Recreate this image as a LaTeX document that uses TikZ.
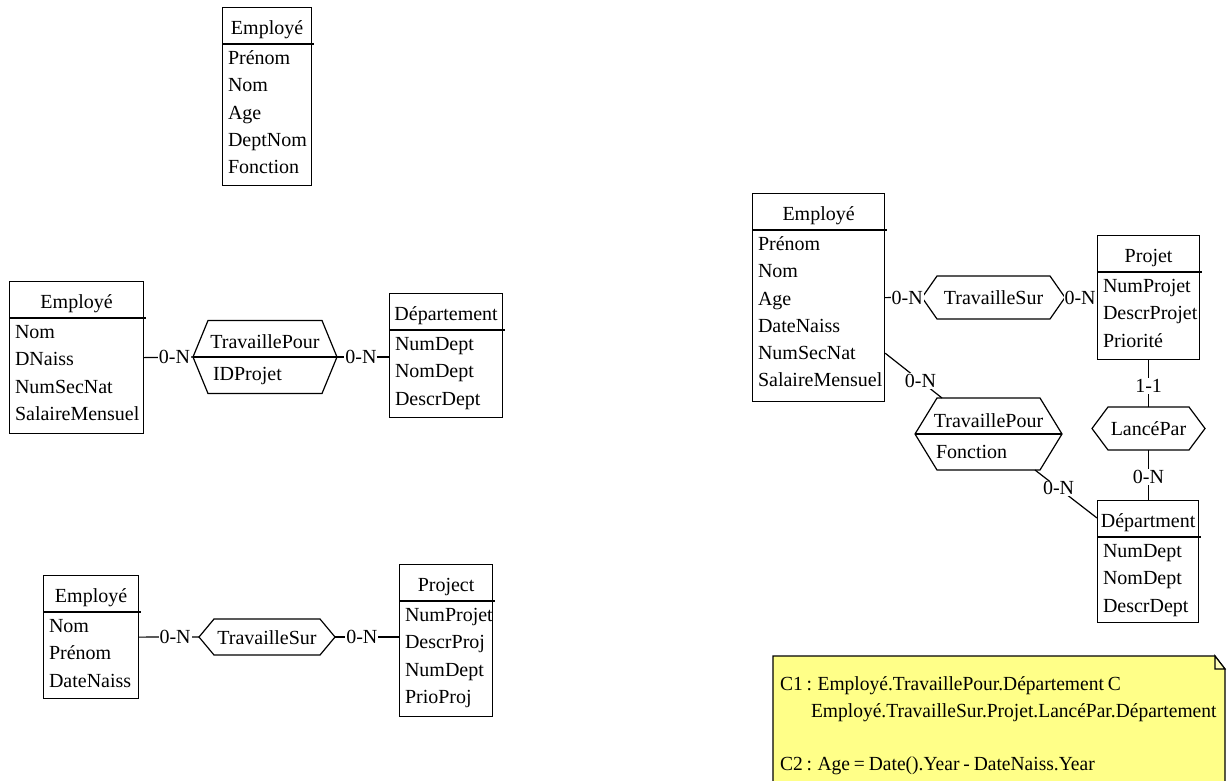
\documentclass[tikz,border=0pt]{standalone}
\usepackage{fontspec}
\setmainfont{Liberation Serif}
\usetikzlibrary{calc}

% Entity box: name, left, top, width, height, title, attribute list
\newcommand\erentity[7]{%
  \node[entbox, minimum width=#4pt, minimum height=#5pt, anchor=north west] (#1) at (#2,#3) {};
  \node[txt, anchor=base] (#1-title) at ($(#1.north)+(0,27)$) {#6};
  \draw[boxline] ($(#1.north west)+(0,37)$) -- ($(#1.north east)+(2,37)$);
  \foreach \attr [count=\k from 0] in {#7} {
    \node[txt, anchor=base west] (#1-a\k) at ($(#1.north west)+(6,57.5+27.25*\k)$) {\attr};
  }%
}

% Relationship hexagon: name, centre x, centre y, width, height, corner inset
\newcommand\errel[6]{%
  \node[minimum width=#4pt, minimum height=#5pt, inner sep=0pt, outer sep=0pt] (#1) at (#2,#3) {};
  \draw[boxline] (#1.west) -- ($(#1.north west)+(#6,0)$) -- ($(#1.north east)+(-#6,0)$)
    -- (#1.east) -- ($(#1.south east)+(-#6,0)$) -- ($(#1.south west)+(#6,0)$) -- cycle;
}

% Condensed line of the constraint note
\newcommand\noteline[1]{\scalebox{0.975}[1]{\spaceskip=0.2em plus 0.05em #1}}

\definecolor{notefill}{RGB}{255,255,136}
\definecolor{foldfill}{RGB}{255,255,190}

\begin{document}
\begin{tikzpicture}[x=1pt, y=-1pt,
  txt/.style={font=\fontsize{20}{24}\selectfont, inner sep=0pt, outer sep=0pt},
  entbox/.style={draw, line width=1.2pt, fill=white, inner sep=0pt},
  boxline/.style={line width=1.2pt},
  conn/.style={line width=1.2pt},
  lbl/.style={txt, fill=white, inner sep=1pt}]
\useasboundingbox[fill=white] (0,0) rectangle (1229,780);

% ---------- single entity ----------
\erentity{temp}{222}{7}{89}{178}{Employé}{Prénom,Nom,Age,DeptNom,Fonction}

% ---------- Employé -- TravaillePour -- Département ----------
\erentity{memp}{9}{281}{134}{152}{Employé}{Nom,DNaiss,NumSecNat,SalaireMensuel}
\erentity{mdep}{389}{293}{113}{124}{Département}{NumDept,NomDept,DescrDept}
\errel{mrel}{265}{357}{144}{73}{15}
\draw[boxline] (mrel.west) -- (mrel.east);
\node[txt, anchor=base] (mrel-t) at (265,348) {TravaillePour};
\node[txt, anchor=base west] (mrel-a) at (213,380) {IDProjet};
\draw[conn] (memp.east) -- (mrel.west) node[lbl, pos=0.62] {0-N};
\draw[conn] (mrel.east) -- (mrel.east -| mdep.west) node[lbl, pos=0.46] {0-N};

% ---------- Employé -- TravailleSur -- Project ----------
\erentity{bemp}{43}{575}{95}{123}{Employé}{Nom,Prénom,DateNaiss}
\erentity{bproj}{399}{564}{93}{152}{Project}{NumProjet,DescrProj,NumDept,PrioProj}
\errel{brel}{267}{637}{136}{36}{15}
\node[txt, anchor=base] (brel-t) at (267,644) {TravailleSur};
\draw[conn] (bemp.east) -- (brel.west) node[lbl, pos=0.6] {0-N};
\draw[conn] (brel.east) -- (brel.east -| bproj.west) node[lbl, pos=0.42] {0-N};

% ---------- full schema ----------
\erentity{remp}{752}{193}{132}{208}{Employé}{Prénom,Nom,Age,DateNaiss,NumSecNat,SalaireMensuel}
\erentity{rproj}{1097}{235}{102}{124}{Projet}{NumProjet,DescrProjet,Priorité}
\erentity{rdep}{1097}{500}{101}{122}{Départment}{NumDept,NomDept,DescrDept}

\errel{rsur}{993.5}{297.5}{143}{43}{15}
\node[txt, anchor=base] (rsur-t) at (993.5,304) {TravailleSur};

\errel{rlance}{1148.5}{428.5}{113}{43}{16}
\node[txt, anchor=base] (rlance-t) at (1148.5,435) {LancéPar};

\errel{rpour}{988.5}{434}{147}{72}{22}
\draw[boxline] (rpour.west) -- (rpour.east);
\node[txt, anchor=base] (rpour-t) at (988.5,427) {TravaillePour};
\node[txt, anchor=base west] (rpour-a) at (936,458) {Fonction};

\draw[conn] (remp.east) -- (rsur.west) node[lbl, pos=0.6] {0-N};
\draw[conn] (rsur.east) -- (rsur.east -| rproj.west) node[lbl, pos=0.47] {0-N};
\draw[conn] (rproj.south) -- (rproj.south |- rlance.north) node[lbl, pos=0.55] {1-1};
\draw[conn] (rlance.south) -- (rlance.south |- rdep.north) node[lbl, pos=0.54] {0-N};
\draw[conn] ($(remp.south east)+(0,-49)$) -- ($(rpour.north west)+(27,0)$) node[lbl, pos=0.62] {0-N};
\draw[conn] ($(rpour.south east)+(-27,0)$) -- ($(rdep.north west)+(0,18)$) node[lbl, pos=0.38] {0-N};

% ---------- constraint note ----------
\draw[boxline, fill=notefill] (773,656) -- (1215,656) -- (1225,669) -- (1225,786) -- (773,786) -- cycle;
\draw[boxline, fill=foldfill] (1215,656) -- (1215,669) -- (1225,669) -- cycle;
\node[txt, anchor=base west] (c1a) at (780,690) {\noteline{C1 : Employé.TravaillePour.Département C}};
\node[txt, anchor=base west] (c1b) at (811,717) {\noteline{Employé.TravailleSur.Projet.LancéPar.Département}};
\node[txt, anchor=base west] (c2) at (780,770) {\noteline{C2 : Age = Date().Year - DateNaiss.Year}};
\end{tikzpicture}
\end{document}
